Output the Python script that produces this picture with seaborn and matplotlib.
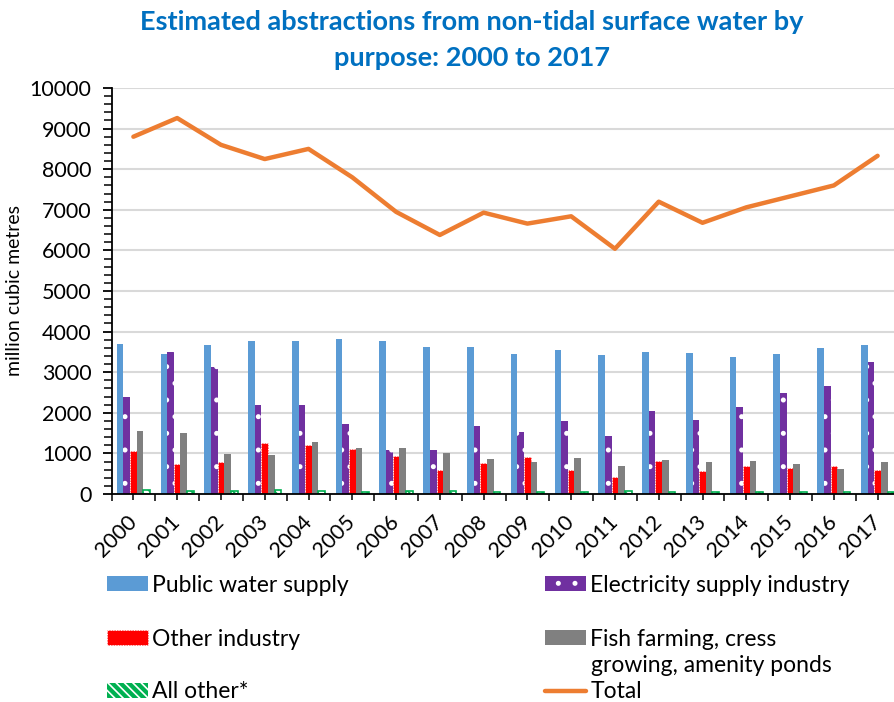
import numpy as np
import pandas as pd
import matplotlib
matplotlib.use("Agg")
import matplotlib.pyplot as plt
import seaborn as sns
from matplotlib.patches import Patch
from matplotlib.lines import Line2D
from matplotlib.ticker import MultipleLocator, FixedLocator

years = [str(y) for y in range(2000, 2018)]
public_water = [3700, 3450, 3670, 3770, 3770, 3820, 3770, 3620, 3620, 3450, 3540, 3430, 3490, 3480, 3380, 3450, 3600, 3660]
electricity = [2400, 3500, 3120, 2200, 2200, 1730, 1080, 1080, 1680, 1520, 1800, 1440, 2050, 1820, 2150, 2480, 2650, 3260]
other_industry = [1050, 730, 780, 1250, 1210, 1120, 930, 590, 760, 900, 590, 420, 820, 570, 700, 640, 700, 600]
fish_farming = [1560, 1510, 980, 970, 1290, 1130, 1130, 1020, 860, 780, 880, 690, 830, 800, 810, 730, 610, 780]
all_other = [110, 80, 80, 100, 80, 60, 70, 70, 50, 50, 50, 70, 50, 50, 60, 50, 50, 60]
total = [8800, 9260, 8600, 8250, 8500, 7800, 6950, 6380, 6930, 6660, 6840, 6040, 7200, 6680, 7060, 7330, 7600, 8330]

series_names = ["Public water supply", "Electricity supply industry", "Other industry",
                "Fish farming, cress growing, amenity ponds", "All other*"]
series_vals = [public_water, electricity, other_industry, fish_farming, all_other]
colors = ["#5B9BD5", "#7030A0", "#FF0000", "#808080", "#00B050"]
line_color = "#ED7D31"
title_color = "#0070C0"

rows = []
for name, vals in zip(series_names, series_vals):
    for y, v in zip(years, vals):
        rows.append({"year": y, "purpose": name, "value": v})
df = pd.DataFrame(rows)

sns.set_theme(style="white")
plt.rcParams['font.family'] = ['Lato', 'DejaVu Sans']
plt.rcParams['hatch.linewidth'] = 1.2

fig = plt.figure(figsize=(8.94, 7.02), dpi=100)
ax = fig.add_axes([111.5/894, 1-494/702, 788/894, 406/702])

sns.barplot(data=df, x="year", y="value", hue="purpose", hue_order=series_names,
            palette=colors, ax=ax, width=0.76, saturation=1, legend=False, errorbar=None)

for i, cont in enumerate(ax.containers):
    for bar in cont:
        bar.set_linewidth(0)
        if i == 1:
            bar.set_hatch(".")
            bar.set_edgecolor("white")
        if i == 2:
            bar.set_edgecolor("white")
            bar.set_linewidth(0.7)
            bar.set_linestyle(":")
        if i == 4:
            bar.set_hatch("\\\\\\\\")
            bar.set_linewidth(1.2)
            bar.set_edgecolor(colors[4])
            bar.set_facecolor("white")

sns.lineplot(x=np.arange(len(years)), y=total, color=line_color, linewidth=3.2, ax=ax, legend=False)

ax.set_ylim(0, 10000)
ax.set_xlim(-0.5, len(years) - 0.5)
ax.yaxis.set_major_locator(MultipleLocator(1000))
ax.yaxis.set_minor_locator(MultipleLocator(200))
ax.xaxis.set_minor_locator(FixedLocator(np.arange(-0.5, len(years), 1.0)))
ax.grid(axis="y", which="major", color="#D9D9D9", linewidth=1.5)
ax.set_axisbelow(True)
for s in ["top", "right"]:
    ax.spines[s].set_visible(False)
ax.spines["left"].set_color("black")
ax.spines["left"].set_linewidth(1.3)
ax.spines["bottom"].set_color("black")
ax.spines["bottom"].set_linewidth(1.3)
ax.tick_params(axis="y", which="major", left=True, length=6.5, width=1.3, color="black", labelsize=15.5, pad=8, labelcolor="black")
ax.tick_params(axis="y", which="minor", left=True, length=6, width=1.1, color="black")
ax.tick_params(axis="x", which="major", bottom=True, length=4, width=1.1, color="black", labelsize=15.5, pad=14, labelcolor="black")
ax.tick_params(axis="x", which="minor", bottom=True, length=5, width=1.1, color="black")
plt.setp(ax.get_xticklabels(), rotation=45, ha="right", va="center", rotation_mode="anchor")
ax.set_xlabel("")
ax.set_ylabel("million cubic metres", fontsize=14, labelpad=5, color="black")

fig.text(472/894, 1-22/702, "Estimated abstractions from non-tidal surface water by",
         ha="center", va="center", fontsize=19.5, fontweight="bold", color=title_color)
fig.text(472/894, 1-58/702, "purpose: 2000 to 2017",
         ha="center", va="center", fontsize=19.5, fontweight="bold", color=title_color)

leg_fs = 16.5
entries = [
    (Patch(facecolor=colors[0], edgecolor="none"), "Public water supply", 107, 585),
    (Patch(facecolor=colors[2], edgecolor="white", linestyle=":", linewidth=0.7), "Other industry", 107, 639),
    (Patch(facecolor=colors[4], edgecolor="white", hatch="\\\\\\\\", linewidth=0), "All other*", 107, 692),
    (Patch(facecolor=colors[1], edgecolor="white", hatch=".", linewidth=0), "Electricity supply industry", 545, 585),
    (Patch(facecolor=colors[3], edgecolor="none"), "Fish farming, cress", 545, 639),
    (Line2D([0], [0], color=line_color, linewidth=3.2), "Total", 545, 692),
]
for h, lab, xp, yp in entries:
    fig.legend([h], [lab], loc="center left", bbox_to_anchor=(xp/894, 1-yp/702),
               frameon=False, fontsize=leg_fs, handlelength=1.8, handleheight=0.65,
               handletextpad=0.18, borderpad=0, borderaxespad=0, labelcolor="black")
fig.text(591/894, 1-666/702, "growing, amenity ponds", ha="left", va="center",
         fontsize=leg_fs, color="black")

fig.savefig("out.png", dpi=100)
